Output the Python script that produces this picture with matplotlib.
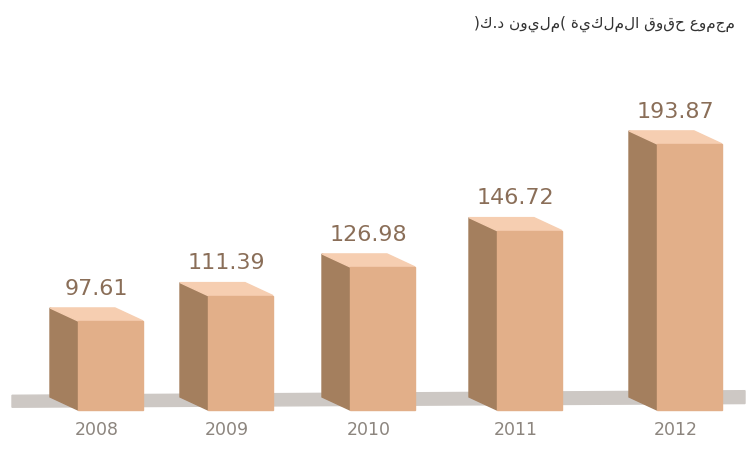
import matplotlib
matplotlib.use("Agg")
import matplotlib.pyplot as plt
from matplotlib.patches import Polygon

# ---------- data ----------
years = ["2008", "2009", "2010", "2011", "2012"]
values = [97.61, 111.39, 126.98, 146.72, 193.87]
title = "مجموع حقوق الملكية (مليون د.ك)"

# ---------- layout (pixel-ish x, value y) ----------
front_left = [78, 208, 350, 497, 657]
bar_w = 65
dx = -28          # depth offset in x
dy = 7.07         # depth offset in value units
base = 49.2

c_front = "#E2AF89"
c_side = "#A47F5E"
c_top = "#F6CEB1"
c_shadow = "#CDC8C4"
c_text = "#8A6E58"

fig = plt.figure(figsize=(7.51, 4.5), dpi=100)
ax = fig.add_axes([0, 0, 1, 1])
ax.set_xlim(0, 751)
ax.set_ylim(27.45, 272.1)
ax.axis("off")

# floor shadow
ax.add_patch(Polygon([(12, base + 1.5), (745, base + 3.5), (745, base + 10.5), (12, base + 8)],
                     closed=True, color=c_shadow, zorder=1))

for x0, v, yr in zip(front_left, values, years):
    x1 = x0 + bar_w
    # side face
    ax.add_patch(Polygon([(x0, base), (x0, v), (x0 + dx, v + dy), (x0 + dx, base + dy)],
                         closed=True, color=c_side, zorder=2))
    # top face
    ax.add_patch(Polygon([(x0, v), (x1, v), (x1 + dx, v + dy), (x0 + dx, v + dy)],
                         closed=True, color=c_top, zorder=2))
    # front face
    ax.add_patch(Polygon([(x0, base), (x1, base), (x1, v), (x0, v)],
                         closed=True, color=c_front, zorder=3))
    ax.text(x0 + dx / 2 + bar_w / 2, v + dy + 5, f"{v:.2f}", ha="center", va="bottom",
            fontsize=16, color=c_text)
    ax.text(x0 + dx / 2 + bar_w / 2, base - 11, yr, ha="center", va="center",
            fontsize=12.5, color="#8C857E")

# Arabic title (reversed for visual RTL order)
ax.text(735, 259, title[::-1], ha="right", va="center", fontsize=11, color="#333333",
        family=["DejaVu Sans"])

fig.savefig("out.png", dpi=100)
